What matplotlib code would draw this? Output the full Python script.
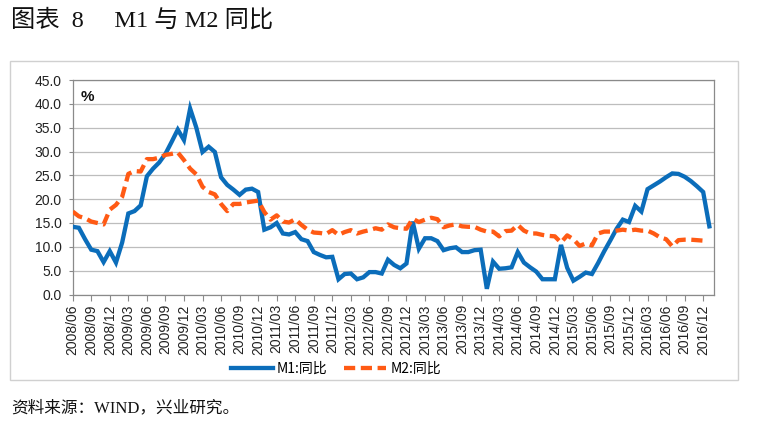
import numpy as np
import matplotlib
matplotlib.use("Agg")
import matplotlib.pyplot as plt
from matplotlib.patches import Rectangle
from matplotlib.lines import Line2D

# ---------------- data ----------------
tick_labels = [
    "2008/06", "2008/09", "2008/12", "2009/03", "2009/06", "2009/09", "2009/12",
    "2010/03", "2010/06", "2010/09", "2010/12", "2011/03", "2011/06", "2011/09",
    "2011/12", "2012/03", "2012/06", "2012/09", "2012/12", "2013/03", "2013/06",
    "2013/09", "2013/12", "2014/03", "2014/06", "2014/09", "2014/12", "2015/03",
    "2015/06", "2015/09", "2015/12", "2016/03", "2016/06", "2016/09", "2016/12",
]

# monthly, 2008/06 .. 2017/01
m1 = [
    14.2, 14.0, 11.6, 9.4, 9.1, 6.8, 9.1,                               # 2008
    6.7, 10.9, 17.0, 17.5, 18.7, 24.8, 26.4, 27.7, 29.5, 32.0, 34.6, 32.4,  # 2009
    39.0, 35.0, 29.9, 31.0, 29.9, 24.6, 23.0, 22.0, 20.9, 22.0, 22.2, 21.5,  # 2010
    13.6, 14.1, 15.0, 12.8, 12.6, 13.1, 11.6, 11.2, 8.9, 8.3, 7.8, 7.9,      # 2011
    3.2, 4.3, 4.4, 3.2, 3.6, 4.7, 4.7, 4.4, 7.3, 6.2, 5.5, 6.5,             # 2012
    15.3, 9.6, 11.8, 11.8, 11.2, 9.3, 9.7, 9.9, 8.9, 8.9, 9.3, 9.4,          # 2013
    1.2, 6.9, 5.4, 5.5, 5.7, 8.9, 6.7, 5.7, 4.8, 3.2, 3.2, 3.2,             # 2014
    10.4, 5.6, 2.9, 3.7, 4.6, 4.3, 6.6, 9.1, 11.4, 13.8, 15.7, 15.2,         # 2015
    18.6, 17.4, 22.1, 22.9, 23.7, 24.6, 25.4, 25.3, 24.7, 23.8, 22.7, 21.5,  # 2016
    14.3,                                                              # 2017/01
]

m2 = [
    17.4, 16.4, 16.0, 15.3, 15.0, 14.7, 17.8,                          # 2008
    18.8, 20.5, 25.3, 25.9, 25.8, 28.4, 28.4, 28.7, 29.3, 29.5, 29.8, 28.2,  # 2009
    26.4, 25.2, 22.6, 21.5, 21.0, 19.0, 17.5, 19.0, 19.0, 19.3, 19.5, 19.7,  # 2010
    17.3, 15.7, 16.6, 15.3, 15.1, 15.8, 14.6, 13.6, 13.0, 12.9, 12.7, 13.5,  # 2011
    12.5, 13.1, 13.5, 12.8, 13.2, 13.5, 13.9, 13.6, 14.7, 14.1, 13.9, 13.8,  # 2012
    15.9, 15.2, 15.7, 16.1, 15.8, 14.1, 14.5, 14.7, 14.3, 14.2, 14.2, 13.6,  # 2013
    13.2, 13.2, 12.2, 13.3, 13.4, 14.6, 13.4, 12.8, 12.8, 12.5, 12.3, 12.2,  # 2014
    10.9, 12.4, 11.6, 10.2, 10.7, 10.3, 12.8, 13.2, 13.2, 13.4, 13.6, 13.4,  # 2015
    13.6, 13.4, 13.4, 12.8, 12.0, 11.6, 10.1, 11.4, 11.5, 11.5, 11.4, 11.3,  # 2016
]

series_names = ["M1:同比", "M2:同比"]
y_ticks = [0, 5, 10, 15, 20, 25, 30, 35, 40, 45]

# ---------------- figure ----------------
W, H = 770, 424
fig = plt.figure(figsize=(W / 100, H / 100), dpi=100)
fig.patch.set_facecolor("white")

def fx(px):
    return px / W

def fy(py):
    return 1 - py / H

# outer chart frame
fig.patches.append(Rectangle((fx(9.5), fy(379.5)), fx(737.5) - fx(9.5), fy(61) - fy(379.5),
                             transform=fig.transFigure, fill=False,
                             edgecolor="#d0d0d0", linewidth=1.0))

left, right, top, bottom = 72.7, 714.3, 80.0, 294.5
ax = fig.add_axes([fx(left), fy(bottom), fx(right) - fx(left), fy(top) - fy(bottom)])

blue = "#0B6DBA"
orange = "#FF5A14"

x1 = np.arange(len(m1))
x2 = np.arange(len(m2))
ax.plot(x1, m1, color=blue, lw=3.1, solid_joinstyle="miter", zorder=3)
ax.plot(x2, m2, color=orange, lw=3.1, dashes=(2.6, 1.3), dash_capstyle="butt", zorder=3)

ax.set_xlim(0, 103.8)
ax.set_ylim(0, 45)
ax.set_yticks(y_ticks)
ax.set_yticklabels([f"{v:.1f}" for v in y_ticks], fontsize=10,
                   family=["Liberation Sans"], color="#222222")
xt = np.arange(0, 3 * len(tick_labels), 3)
ax.set_xticks(xt)
ax.set_xticklabels(tick_labels, rotation=90, fontsize=10,
                   family=["Liberation Sans"], color="#222222", va="top", ha="center")

ax.grid(axis="y", color="#bdbdbd", linewidth=0.9)
ax.set_axisbelow(True)
for s in ax.spines.values():
    s.set_color("#8a8a8a")
    s.set_linewidth(0.9)
ax.tick_params(axis="x", length=4, width=0.8, color="#8a8a8a", pad=3)
ax.tick_params(axis="y", length=3, width=0.8, color="#8a8a8a", pad=5)

ax.text(0.012, 0.92, "%", transform=ax.transAxes, fontsize=11, fontweight="bold",
        family=["Liberation Sans"], ha="left", va="center", color="#111111")

# legend
handles = [Line2D([], [], color=blue, lw=3.1),
           Line2D([], [], color=orange, lw=3.1, dashes=(2.6, 1.3), dash_capstyle="butt")]
fig.legend(handles, series_names, loc="center", bbox_to_anchor=(fx(336), fy(369)),
           ncol=2, frameon=False, handlelength=3.0, handletextpad=0.3, columnspacing=1.2,
           prop={"family": ["Noto Sans CJK SC"], "size": 10})

# title and source
title_font = ["Liberation Serif", "Noto Sans CJK SC"]
fig.text(fx(11), fy(20), "图表  8     M1 与 M2 同比", fontsize=17.5,
         family=title_font, ha="left", va="center", color="#111111")
fig.text(fx(11), fy(408), "资料来源：WIND，兴业研究。", fontsize=12,
         family=title_font, ha="left", va="center", color="#111111")

fig.savefig("out.png", dpi=100, facecolor="white")
